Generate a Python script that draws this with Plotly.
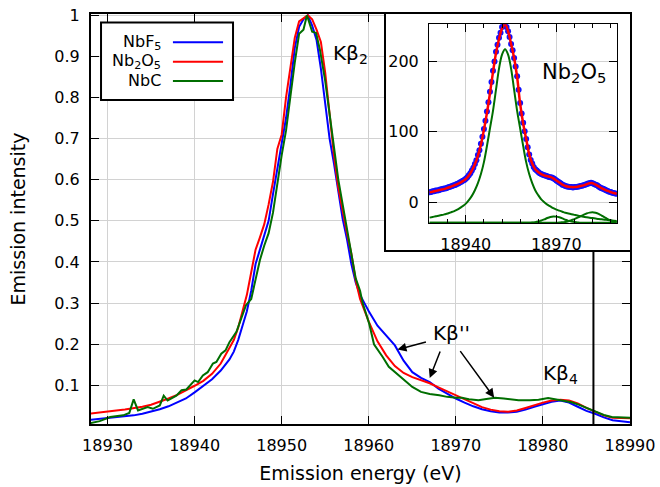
import plotly.graph_objects as go

# ---------------- main plot data ----------------
energy = [18928, 18929, 18930, 18931, 18932, 18933, 18934, 18935, 18936, 18937,
          18938, 18939, 18940, 18941, 18942, 18943, 18944,
          18944.5, 18945, 18945.5, 18946, 18946.5, 18947, 18947.5, 18948, 18948.5,
          18949, 18949.5, 18950, 18950.5, 18951, 18951.5, 18952, 18952.5, 18953,
          18953.5, 18954, 18954.5, 18955, 18955.5, 18956, 18956.5, 18957, 18957.5,
          18958, 18958.5, 18959, 18959.5, 18960,
          18961, 18962, 18963, 18964, 18965, 18966, 18967, 18968, 18969, 18970,
          18971, 18972, 18973, 18974, 18975, 18976, 18977, 18978, 18979, 18980,
          18981, 18982, 18983, 18984, 18985, 18986, 18987, 18988, 18989, 18990]

nbf5 = [0.016, 0.018, 0.020, 0.022, 0.024, 0.027, 0.031, 0.036, 0.042, 0.049,
        0.058, 0.068, 0.083, 0.098, 0.115, 0.136, 0.163,
        0.182, 0.21, 0.245, 0.28, 0.33, 0.395, 0.43, 0.465, 0.50,
        0.565, 0.625, 0.68, 0.75, 0.83, 0.92, 0.972, 0.99, 1.0,
        0.975, 0.94, 0.87, 0.785, 0.70, 0.64, 0.575, 0.505, 0.455,
        0.395, 0.35, 0.32, 0.30, 0.28,
        0.245, 0.22, 0.197, 0.16, 0.132, 0.118, 0.108, 0.092, 0.079, 0.068,
        0.058, 0.049, 0.042, 0.037, 0.034, 0.034, 0.036, 0.041, 0.048, 0.054,
        0.06, 0.063, 0.058, 0.048, 0.038, 0.031, 0.022, 0.015, 0.012, 0.010]

nb2o5 = [0.031, 0.034, 0.037, 0.039, 0.041, 0.044, 0.048, 0.053, 0.060, 0.068,
         0.077, 0.087, 0.099, 0.111, 0.128, 0.153, 0.19,
         0.21, 0.24, 0.28, 0.32, 0.375, 0.43, 0.46, 0.492, 0.54,
         0.595, 0.675, 0.71, 0.80, 0.875, 0.945, 0.985, 0.993, 1.0,
         0.99, 0.965, 0.935, 0.86, 0.76, 0.66, 0.58, 0.52, 0.47,
         0.42, 0.355, 0.31, 0.28, 0.255,
         0.207, 0.173, 0.147, 0.13, 0.12, 0.113, 0.105, 0.095, 0.085, 0.076,
         0.065, 0.055, 0.047, 0.041, 0.037, 0.036, 0.039, 0.045, 0.052, 0.058,
         0.063, 0.065, 0.063, 0.056, 0.045, 0.036, 0.027, 0.021, 0.020, 0.020]

nbc_energy = [18928.0, 18929.1, 18930.3, 18931.8, 18932.5, 18933.0, 18933.5, 18934.0,
              18934.6, 18935.2, 18936.0, 18936.45, 18936.9, 18937.9, 18938.5, 18939.05,
              18940.0, 18940.4, 18940.95, 18941.5, 18942.1, 18942.5, 18943.06, 18943.55,
              18944.0, 18944.8, 18945.35, 18945.9, 18946.5, 18947.0, 18947.5, 18948.0,
              18948.5, 18949.0, 18949.5, 18950.0, 18950.5, 18951.0, 18951.5, 18952.0,
              18952.5, 18952.9, 18953.2, 18953.5, 18953.95, 18954.4, 18955.0, 18955.5,
              18956.0, 18956.5, 18957.0, 18957.5, 18958.0, 18958.5, 18959.0, 18959.3,
              18960.05, 18960.6, 18961.6, 18962.3, 18963.9, 18965.0, 18966.0, 18967.0,
              18968.1, 18969.0, 18970.0, 18970.7, 18971.5, 18972.6, 18973.5, 18974.5,
              18975.5, 18976.5, 18977.2, 18978.5, 18979.5, 18980.6, 18981.5, 18982.4,
              18983.3, 18984.1, 18985.0, 18986.0, 18987.0, 18987.9, 18989.0, 18990.0]

nbc = [0.008, 0.013, 0.023, 0.027, 0.033, 0.066, 0.039, 0.042,
       0.047, 0.043, 0.051, 0.075, 0.063, 0.075, 0.088, 0.090,
       0.112, 0.108, 0.124, 0.132, 0.153, 0.157, 0.177, 0.185,
       0.205, 0.23, 0.262, 0.295, 0.31, 0.355, 0.405, 0.44,
       0.47, 0.52, 0.595, 0.66, 0.72, 0.805, 0.885, 0.955,
       0.965, 1.0, 0.98, 0.96, 0.957, 0.915, 0.84, 0.76,
       0.68, 0.60, 0.54, 0.48, 0.42, 0.36, 0.33, 0.30,
       0.25, 0.20, 0.169, 0.145, 0.116, 0.096, 0.084, 0.079,
       0.076, 0.072, 0.070, 0.070, 0.066, 0.064, 0.067, 0.070,
       0.068, 0.066, 0.0635, 0.064, 0.065, 0.069, 0.066, 0.0635,
       0.059, 0.053, 0.045, 0.035, 0.028, 0.023, 0.021, 0.021]

series_names = ["NbF<sub>5</sub>", "Nb<sub>2</sub>O<sub>5</sub>", "NbC"]
series_colors = ["#0000ff", "#ff0000", "#006e00"]

x_ticks = [18930, 18940, 18950, 18960, 18970, 18980, 18990]
x_ticktext = ["18930", "18940", "18950", "18960", "18970", "18980", "18990"]
y_ticks = [0.1, 0.2, 0.3, 0.4, 0.5, 0.6, 0.7, 0.8, 0.9, 1.0]
y_ticktext = ["0.1", "0.2", "0.3", "0.4", "0.5", "0.6", "0.7", "0.8", "0.9", "1"]

# ---------------- inset data (Nb2O5 fit) ----------------
inset_data_energy = [18928 + 0.5 * i for i in range(125)]
inset_data = [14, 14.5, 15.5, 15.5, 16.5, 16.5, 17, 18, 18.5, 19,
              19.5, 20, 21, 21.5, 22.5, 23, 24, 24.5, 26, 26.5,
              28, 29, 30.5, 31.5, 33.5, 35.5, 38.5, 41, 45, 49,
              54.5, 59.5, 67, 74, 83, 93, 104, 116, 129, 142,
              157, 171, 187, 200, 214, 224, 234, 241, 249, 253,
              253, 249, 243, 235, 225, 216, 205, 193, 179, 160,
              141, 126, 113, 101, 90, 78, 68, 60, 55, 50,
              47, 45, 43, 41, 40, 39, 38.5, 37.5, 37, 36,
              35.5, 35, 34, 32.5, 31, 29.5, 28, 26.5, 25, 24,
              23, 22.5, 22, 21.5, 21.5, 21, 21.5, 21.5, 22, 22.5,
              23, 23.5, 24, 25, 25.5, 26.5, 27, 27.5, 27, 26,
              25, 24, 22.5, 21, 20, 19, 18, 17, 16, 15,
              14.5, 13.5, 13, 12.5, 12]

inset_fit_energy = list(range(18928, 18991))
inset_fit = [14, 15, 16, 17, 18, 19, 20.5, 22, 23.5, 25.5,
             27.5, 30, 33, 38, 45, 54, 66, 82, 103, 127,
             155, 185, 212, 232, 247, 253, 243, 225, 205, 178,
             140, 112, 90, 68, 55, 47, 43, 40, 38, 37,
             36, 34, 31, 28, 25, 23, 22, 21.5, 21.5, 22,
             23, 24, 25.5, 27, 27, 25, 22.5, 20, 18, 16,
             14.5, 13, 12]
inset_main_peak = [-21.9, -21, -20, -19.2, -18.3, -17.2, -16, -14.5, -13, -11,
                   -8.5, -5.5, -2, 3, 9, 17, 27, 40, 57, 80,
                   105, 130, 160, 190, 210, 217.6, 210, 190, 160, 130,
                   105, 80, 57, 40, 27, 17, 10, 4, 0, -3.5,
                   -6, -8.5, -10.5, -12, -13.5, -15, -16, -17, -18, -19,
                   -19.8, -20.6, -21.3, -22, -22.6, -23.2, -23.8, -24.3, -24.8, -25.3,
                   -25.8, -26.2, -26.6]
inset_peak_b = [-29.3, -29.3, -29.3, -29.3, -29.3, -29.3, -29.3, -29.3, -29.3, -29.3,
                -29.3, -29.3, -29.3, -29.3, -29.3, -29.3, -29.3, -29.3, -29.3, -29.3,
                -29.3, -29.3, -29.3, -29.3, -29.3, -29.3, -29.3, -29.3, -29.3, -29.3,
                -29.3, -29.3, -29.3, -29.3, -29, -28.5, -27.5, -26, -24.5, -22.5,
                -21, -20.3, -20.5, -21.5, -23, -25, -26.5, -27.5, -28.3, -28.8,
                -29.3, -29.3, -29.3, -29.3, -29.3, -29.3, -29.3, -29.3, -29.3, -29.3,
                -29.3, -29.3, -29.3]
inset_peak_c = [-29.3, -29.3, -29.3, -29.3, -29.3, -29.3, -29.3, -29.3, -29.3, -29.3,
                -29.3, -29.3, -29.3, -29.3, -29.3, -29.3, -29.3, -29.3, -29.3, -29.3,
                -29.3, -29.3, -29.3, -29.3, -29.3, -29.3, -29.3, -29.3, -29.3, -29.3,
                -29.3, -29.3, -29.3, -29.3, -29.3, -29.3, -29.3, -29.3, -29.3, -29.3,
                -29.3, -29.3, -29.3, -29, -28.5, -28, -27, -25.5, -24, -22,
                -20, -18, -16, -14.8, -14.3, -15, -16.5, -19, -21.5, -24,
                -26, -27.5, -28.3]
inset_xticks = [18940, 18970]
inset_xticktext = ["18940", "18970"]
inset_yticks = [0, 100, 200]
inset_yticktext = ["0", "100", "200"]

FONT = "DejaVu Sans"
GRID = "#d2d2d2"

fig = go.Figure()

for ex, vals, name, color in zip([energy, energy, nbc_energy], [nbf5, nb2o5, nbc],
                                 series_names, series_colors):
    fig.add_trace(go.Scatter(x=ex, y=vals, mode="lines", name=name,
                             line=dict(color=color, width=2), showlegend=False))

# white framed box behind the inset (its own subplot)
fig.add_trace(go.Scatter(x=[None], y=[None], xaxis="x2", yaxis="y2",
                         showlegend=False, hoverinfo="skip"))

# inset traces
fig.add_trace(go.Scatter(x=inset_data_energy, y=inset_data, mode="markers",
                         marker=dict(color="#1010ff", size=6), xaxis="x3", yaxis="y3",
                         showlegend=False))
for comp in [inset_main_peak, inset_peak_b, inset_peak_c]:
    fig.add_trace(go.Scatter(x=inset_fit_energy, y=comp, mode="lines",
                             line=dict(color=series_colors[2], width=2, shape="spline"),
                             xaxis="x3", yaxis="y3", showlegend=False))
fig.add_trace(go.Scatter(x=inset_fit_energy, y=inset_fit, mode="lines",
                         line=dict(color="#ff0000", width=2.5, shape="spline"),
                         xaxis="x3", yaxis="y3", showlegend=False))

axis_common = dict(ticks="inside", tickcolor="black", tickwidth=1, showline=True,
                   linecolor="black", mirror="ticks", showgrid=True, gridcolor=GRID,
                   gridwidth=1, zeroline=False, automargin=False,
                   tickfont=dict(size=16, family=FONT))

fig.update_layout(
    width=660, height=487,
    margin=dict(l=91, r=30, t=14, b=63),
    paper_bgcolor="white", plot_bgcolor="white",
    font=dict(family=FONT, size=16, color="black"),
    xaxis=dict(domain=[0, 1], range=[18928.1, 18990], tickvals=x_ticks,
               ticktext=x_ticktext, ticklen=8, linewidth=2, ticklabelstandoff=6,
               title=dict(text="Emission energy (eV)", font=dict(size=19), standoff=12),
               **axis_common),
    yaxis=dict(domain=[0, 1], range=[0.006, 1.003], tickvals=y_ticks, ticktext=y_ticktext,
               ticklen=8, linewidth=2, ticklabelstandoff=6,
               title=dict(text="Emission intensity", font=dict(size=19), standoff=24),
               **axis_common),
    xaxis2=dict(domain=[0.5473, 1.0], anchor="y2", range=[0, 1], showline=True,
                mirror=True, linecolor="black", linewidth=1.5, showgrid=False,
                zeroline=False, showticklabels=False, ticks="", fixedrange=True,
                automargin=False),
    yaxis2=dict(domain=[0.4244, 1.0], anchor="x2", range=[0, 1], showline=True,
                mirror=True, linecolor="black", linewidth=1.5, showgrid=False,
                zeroline=False, showticklabels=False, ticks="", fixedrange=True,
                automargin=False),
    xaxis3=dict(domain=[0.6271, 0.9759], anchor="y3", range=[18927.8, 18990.1],
                tickvals=inset_xticks, ticktext=inset_xticktext, ticklen=8, linewidth=1,
                ticklabelstandoff=6,
                minor=dict(ticks="inside", ticklen=4, tick0=18940, dtick=6,
                           tickcolor="black", showgrid=False),
                **axis_common),
    yaxis3=dict(domain=[0.4895, 0.9749], anchor="x3", range=[-30, 253],
                tickvals=inset_yticks, ticktext=inset_yticktext, ticklen=8, linewidth=1,
                ticklabelstandoff=6,
                **axis_common),
)

# vertical marker line below the inset
fig.add_shape(type="line", xref="x", yref="paper", x0=18985.8, x1=18985.8,
              y0=0, y1=0.4244, line=dict(color="black", width=2), layer="above")

# custom gnuplot-style key
fig.add_shape(type="rect", xref="paper", yref="paper", x0=0.0186, x1=0.2635,
              y0=0.790, y1=0.979, fillcolor="white", line=dict(color="black", width=2),
              layer="above")
key_rows = [0.931, 0.8837, 0.8366]
for name, color, yk in zip(series_names, series_colors, key_rows):
    fig.add_shape(type="line", xref="paper", yref="paper", x0=0.152, x1=0.245,
                  y0=yk, y1=yk, line=dict(color=color, width=2), layer="above")
    fig.add_annotation(xref="paper", yref="paper", x=0.133, y=yk, text=name,
                       showarrow=False, xanchor="right", yanchor="middle",
                       font=dict(size=16, family=FONT, color="black"))

# peak labels
fig.add_annotation(x=18957.95, y=0.905, text="Kβ<sub>2</sub>", showarrow=False,
                   font=dict(size=20, family=FONT))
fig.add_annotation(x=18982.0, y=0.127, text="Kβ<sub>4</sub>", showarrow=False,
                   font=dict(size=20, family=FONT))
fig.add_annotation(x=18969.46, y=0.2265, text="Kβ''", showarrow=False,
                   font=dict(size=20, family=FONT))
for hx, hy, ax, ay in [(18963.29, 0.187, 30, -8), (18967.0, 0.118, 11, -28),
                       (18974.4, 0.070, -35, -48)]:
    fig.add_annotation(x=hx, y=hy, text="", showarrow=True, ax=ax, ay=ay,
                       arrowhead=2, arrowsize=1.2, arrowwidth=1.5, arrowcolor="black",
                       standoff=0)
fig.add_annotation(x=18975.9, y=184, xref="x3", yref="y3",
                   text="Nb<sub>2</sub>O<sub>5</sub>", showarrow=False,
                   font=dict(size=21, family=FONT))

fig.write_html("out.html")
